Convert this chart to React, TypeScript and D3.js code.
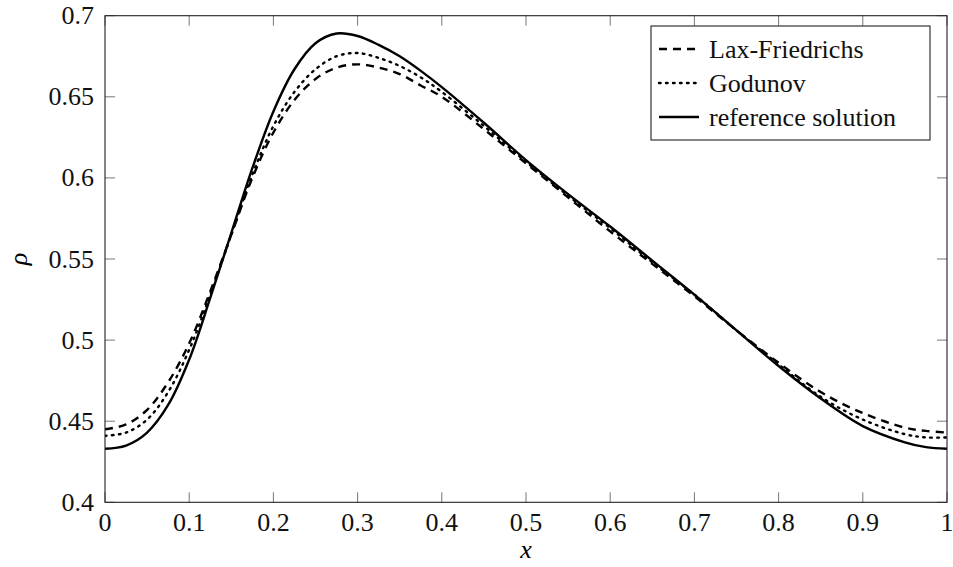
import React from 'react';
import * as d3 from 'd3';

// sample positions along x (denser where the front rises)
const xs = [0, 0.025, 0.05, 0.075, 0.1, 0.125, 0.15, 0.175, 0.2, 0.225, 0.25, 0.275, 0.3, 0.325, 0.35, 0.375, 0.4,
  0.45, 0.5, 0.55, 0.6, 0.65, 0.7, 0.75, 0.8, 0.85, 0.9, 0.95, 0.975, 1];

const laxFriedrichs = [0.445, 0.448, 0.457, 0.474, 0.498, 0.53, 0.565, 0.6, 0.628, 0.648, 0.661, 0.668, 0.67, 0.668,
  0.664, 0.657, 0.65, 0.63, 0.609, 0.588, 0.567, 0.547, 0.527, 0.506, 0.486, 0.468, 0.455, 0.446, 0.444, 0.443];

const godunov = [0.441, 0.443, 0.451, 0.468, 0.494, 0.528, 0.565, 0.602, 0.632, 0.653, 0.667, 0.675, 0.677, 0.674,
  0.669, 0.662, 0.653, 0.632, 0.61, 0.589, 0.569, 0.548, 0.528, 0.506, 0.485, 0.465, 0.451, 0.442, 0.44, 0.44];

const reference = [0.433, 0.435, 0.443, 0.46, 0.488, 0.526, 0.566, 0.606, 0.641, 0.667, 0.683, 0.689, 0.6875, 0.682,
  0.675, 0.666, 0.656, 0.634, 0.611, 0.59, 0.57, 0.549, 0.528, 0.506, 0.484, 0.464, 0.447, 0.437, 0.434, 0.433];

const xTicks = [0, 0.1, 0.2, 0.3, 0.4, 0.5, 0.6, 0.7, 0.8, 0.9, 1];
const yTicks = [0.4, 0.45, 0.5, 0.55, 0.6, 0.65, 0.7];
const legendLabels = ['Lax-Friedrichs', 'Godunov', 'reference solution'];

const W = 953, H = 567;
const left = 105, right = 947, top = 15.7, bottom = 502.3;
const font = "'Liberation Serif', 'Times New Roman', Times, 'Noto Serif', 'DejaVu Serif', serif";

const fmt = (v: number) => String(+v.toFixed(2));

export default function App() {
  const x = d3.scaleLinear().domain([0, 1]).range([left, right]);
  const y = d3.scaleLinear().domain([0.4, 0.7]).range([bottom, top]);

  const line = d3.line<[number, number]>()
    .x(d => x(d[0]))
    .y(d => y(d[1]))
    .curve(d3.curveCatmullRom.alpha(0.5));

  const series = [
    { name: legendLabels[0], values: laxFriedrichs, dash: '8 6', cap: 'butt' },
    { name: legendLabels[1], values: godunov, dash: '1.6 5.4', cap: 'round' },
    { name: legendLabels[2], values: reference, dash: undefined, cap: 'butt' },
  ];

  const tickLen = 10;
  const lg = { x: 651, y: 26, w: 279, rowH: 34 };
  const lgH = lg.rowH * 3 + 12;

  return (
    <svg width={W} height={H} style={{ position: 'absolute', left: 0, top: 0, background: '#fff' }}>
      <defs>
        <clipPath id="plot">
          <rect x={left} y={top} width={right - left} height={bottom - top} />
        </clipPath>
      </defs>

      {/* ticks, inside on all four sides */}
      <g stroke="#777" strokeWidth={1}>
        {xTicks.map(t => (
          <g key={'xt' + t}>
            <line x1={x(t)} x2={x(t)} y1={bottom} y2={bottom - tickLen} />
            <line x1={x(t)} x2={x(t)} y1={top} y2={top + tickLen} />
          </g>
        ))}
        {yTicks.map(t => (
          <g key={'yt' + t}>
            <line x1={left} x2={left + tickLen} y1={y(t)} y2={y(t)} />
            <line x1={right} x2={right - tickLen} y1={y(t)} y2={y(t)} />
          </g>
        ))}
      </g>

      <g clipPath="url(#plot)" fill="none" stroke="#000" strokeWidth={2.4}>
        {series.map(s => (
          <path key={s.name}
            d={line(xs.map((xv, i) => [xv, s.values[i]] as [number, number])) || ''}
            strokeDasharray={s.dash}
            strokeLinecap={s.cap as any} />
        ))}
      </g>

      <rect x={left} y={top} width={right - left} height={bottom - top} fill="none" stroke="#222" strokeWidth={1.1} />

      {/* tick labels */}
      <g fontSize={26} fill="#111" fontFamily={font}>
        {xTicks.map(t => (
          <text key={'xl' + t} x={x(t)} y={531} textAnchor="middle" fontFamily={font}>{fmt(t)}</text>
        ))}
        {yTicks.map(t => (
          <text key={'yl' + t} x={94} y={y(t)} dy="0.33em" textAnchor="end" fontFamily={font}>{fmt(t)}</text>
        ))}
      </g>

      <text x={(left + right) / 2} y={558} textAnchor="middle" fontSize={26} fontStyle="italic"
        fontFamily={font}>x</text>
      <text transform={`translate(27, ${(top + bottom) / 2}) rotate(-90)`} textAnchor="middle" fontSize={26}
        fontStyle="italic" fontFamily={font}>ρ</text>

      {/* legend */}
      <g>
        <rect x={lg.x} y={lg.y} width={lg.w} height={lgH} fill="#fff" stroke="#222" strokeWidth={1.1} />
        {series.map((s, i) => {
          const cy = lg.y + 6 + lg.rowH * (i + 0.5);
          return (
            <g key={'lg' + s.name}>
              <line x1={lg.x + 8} x2={lg.x + 48} y1={cy} y2={cy} stroke="#000" strokeWidth={2.4}
                strokeDasharray={s.dash} strokeLinecap={s.cap as any} />
              <text x={lg.x + 58} y={cy} dy="0.33em" fontSize={26} fill="#111" fontFamily={font}>{s.name}</text>
            </g>
          );
        })}
      </g>
    </svg>
  );
}
